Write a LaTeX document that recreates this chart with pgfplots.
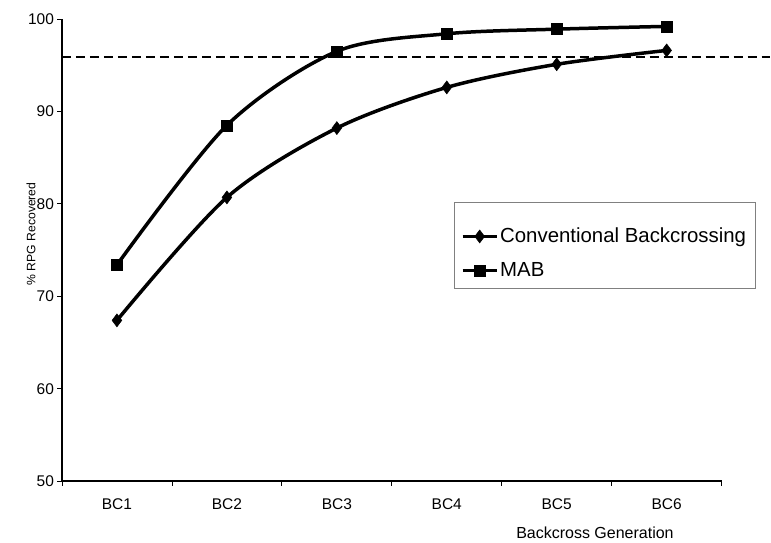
\documentclass[border=0pt]{standalone}
\usepackage{pgfplots}
\pgfplotsset{compat=1.18}
\usepackage{fontspec}
\setmainfont{Liberation Sans}

\begin{document}
\begin{tikzpicture}
\begin{axis}[
  scale only axis,
  width=660pt, height=462.5pt,
  xmin=0.5, xmax=6.5,
  ymin=50, ymax=100,
  ytick={50,60,...,100},
  xtick={0.5,1.5,...,6.5},
  xticklabels={BC1,BC2,BC3,BC4,BC5,BC6},
  x tick label as interval,
  axis x line*=bottom, axis y line*=left,
  axis line style={line width=1.6pt, -},
  tick style={line width=0.8pt, black},
  tick align=outside,
  major tick length=4.5pt,
  /pgf/number format/assume math mode=true,
  ticklabel style={font=\fontsize{15.5}{18}\selectfont},
  xticklabel style={yshift=-9pt},
  xlabel={Backcross Generation},
  xlabel style={at={(rel axis cs:0.808,0)}, anchor=center, yshift=-52pt,
    font=\fontsize{16}{19}\selectfont},
  ylabel={\% RPG Recovered},
  ylabel style={at={(rel axis cs:0,0.535)}, anchor=center, yshift=31pt,
    font=\fontsize{12.2}{15}\selectfont},
  clip=false,
  legend style={at={(rel axis cs:0.594,0.604)}, anchor=north west,
    draw=gray, line width=0.8pt, font=\fontsize{20.4}{24}\selectfont,
    inner xsep=7pt, inner ysep=9pt, row sep=0pt,
    nodes={text height=29pt, text depth=1pt}},
  legend cell align=left,
  legend image code/.code={\draw[mark repeat=2,mark phase=2,line width=3pt]
    plot coordinates {(0pt,-8pt) (17pt,-8pt) (34pt,-8pt)};},
]
% threshold line
\addplot[black, line width=2pt, dash pattern=on 9pt off 5pt, forget plot]
  coordinates {(0.5,95.9) (6.94,95.9)};

\addplot[black, line width=3.5pt, smooth, mark=diamond*, mark size=6.5pt,
  mark options={solid, line width=0.5pt}]
  coordinates {(1,67.4) (2,80.7) (3,88.2) (4,92.6) (5,95.1) (6,96.6)};
\addplot[black, line width=3.5pt, smooth, mark=square*, mark size=5.5pt,
  mark options={solid, line width=0.5pt}]
  coordinates {(1,73.4) (2,88.5) (3,96.5) (4,98.4) (5,98.9) (6,99.2)};
\legend{Conventional Backcrossing, MAB}

\path (rel axis cs:0,0) ++(-62pt,-60.5pt) rectangle ++(771pt,542pt);
\end{axis}
\end{tikzpicture}
\end{document}
